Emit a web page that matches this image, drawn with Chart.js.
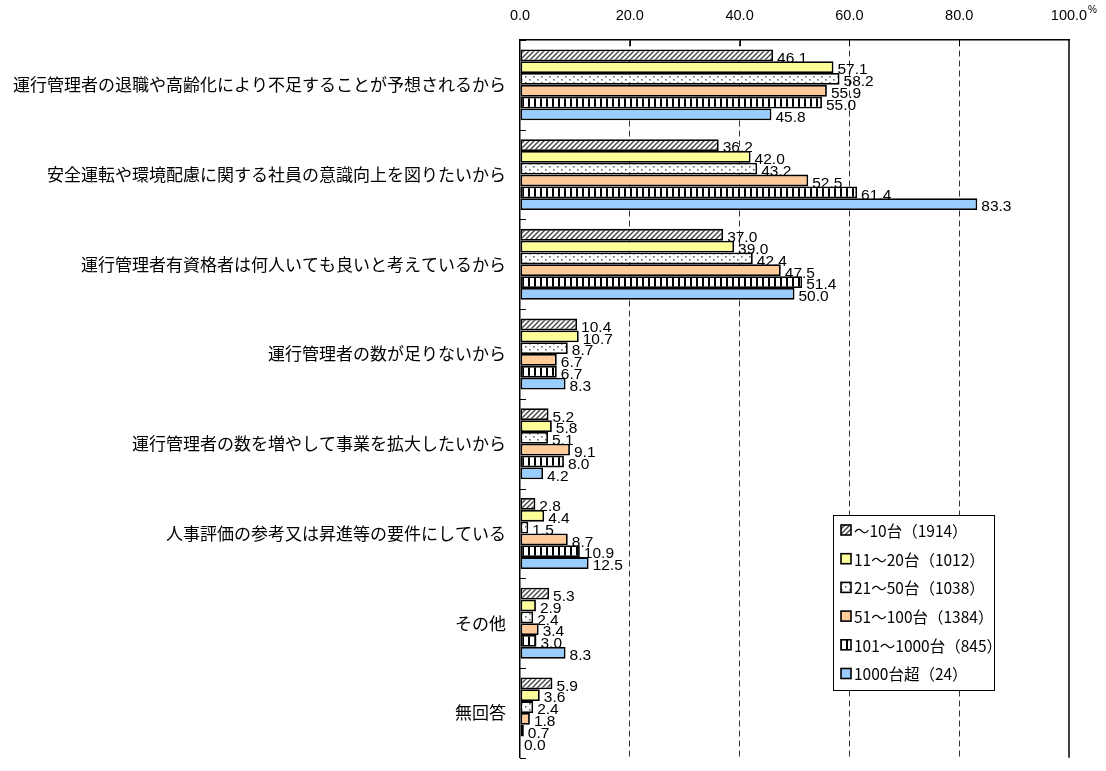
<!DOCTYPE html>
<html>
<head>
<meta charset="utf-8">
<script src="https://cdn.jsdelivr.net/npm/chart.js@4"></script>
<style>
  html, body { margin: 0; padding: 0; background: #fff; overflow: hidden; }
  #wrap { position: absolute; left: 0; top: 0; width: 1106px; height: 782px; }
</style>
</head>
<body>
<div id="wrap"><canvas id="chart" width="1106" height="782"></canvas></div>
<script>
// categories (top to bottom)
const categories = [
  "運行管理者の退職や高齢化により不足することが予想されるから",
  "安全運転や環境配慮に関する社員の意識向上を図りたいから",
  "運行管理者有資格者は何人いても良いと考えているから",
  "運行管理者の数が足りないから",
  "運行管理者の数を増やして事業を拡大したいから",
  "人事評価の参考又は昇進等の要件にしている",
  "その他",
  "無回答"
];

const seriesNames = ["～10台（1914）", "11～20台（1012）", "21～50台（1038）", "51～100台（1384）", "101～1000台（845）", "1000台超（24）"];

const s10 = [46.1, 36.2, 37.0, 10.4, 5.2, 2.8, 5.3, 5.9];
const s20 = [57.1, 42.0, 39.0, 10.7, 5.8, 4.4, 2.9, 3.6];
const s50 = [58.2, 43.2, 42.4, 8.7, 5.1, 1.5, 2.4, 2.4];
const s100 = [55.9, 52.5, 47.5, 6.7, 9.1, 8.7, 3.4, 1.8];
const s1000 = [55.0, 61.4, 51.4, 6.7, 8.0, 10.9, 3.0, 0.7];
const sOver = [45.8, 83.3, 50.0, 8.3, 4.2, 12.5, 8.3, 0.0];

const xTicks = [0, 20, 40, 60, 80, 100];

// fill patterns
function makeTile(w, h, draw) {
  const c = document.createElement("canvas");
  c.width = w; c.height = h;
  const g = c.getContext("2d");
  g.fillStyle = "#fff";
  g.fillRect(0, 0, w, h);
  draw(g);
  return document.createElement("canvas").getContext("2d").createPattern(c, "repeat");
}

const hatch = makeTile(5, 5, g => {
  g.strokeStyle = "#444";
  g.lineWidth = 1.4;
  g.beginPath();
  g.moveTo(-1, 6); g.lineTo(6, -1);
  g.moveTo(-1, 1); g.lineTo(1, -1);
  g.moveTo(4, 6); g.lineTo(6, 4);
  g.stroke();
});
const dots = makeTile(8, 6, g => {
  g.fillStyle = "#666";
  g.fillRect(1, 1, 1.6, 1.6);
  g.fillRect(5, 4, 1.6, 1.6);
});
const stripes = makeTile(6, 6, g => {
  g.fillStyle = "#000";
  g.fillRect(0, 0, 2, 6);
});

const fills = [hatch, "#ffff99", dots, "#ffcc99", stripes, "#99ccff"];
const values = [s10, s20, s50, s100, s1000, sOver];

const jpFont = "'Noto Sans CJK JP', sans-serif";
const numFont = "'Liberation Sans', Arial, sans-serif";

// value labels, inner ticks, frame, legend
const extras = {
  id: "extras",
  afterDatasetsDraw(chart) {
    const ctx = chart.ctx;
    const area = chart.chartArea;
    const x = chart.scales.x;
    const y = chart.scales.y;
    ctx.save();

    // labels next to bars
    ctx.fillStyle = "#000";
    ctx.font = "15.5px " + numFont;
    ctx.textAlign = "left";
    ctx.textBaseline = "middle";
    chart.data.datasets.forEach((ds, i) => {
      chart.getDatasetMeta(i).data.forEach((bar, j) => {
        ctx.fillText(ds.data[j].toFixed(1), bar.x + 4, bar.y + 3);
      });
    });

    // right frame line
    ctx.strokeStyle = "#000";
    ctx.lineWidth = 1.5;
    ctx.beginPath();
    ctx.moveTo(x.getPixelForValue(100), area.top);
    ctx.lineTo(x.getPixelForValue(100), area.bottom);
    ctx.stroke();

    // inner tick marks
    ctx.lineWidth = 1;
    ctx.beginPath();
    const step = y.getPixelForValue(1) - y.getPixelForValue(0);
    for (let i = 0; i <= categories.length; i++) {
      const py = Math.round(y.getPixelForValue(i) - step / 2) + 0.5;
      ctx.moveTo(area.left, py);
      ctx.lineTo(area.left + 6, py);
    }
    xTicks.slice(1, -1).forEach(v => {
      const px = Math.round(x.getPixelForValue(v)) + 0.5;
      ctx.moveTo(px, area.top);
      ctx.lineTo(px, area.top + 6);
    });
    ctx.stroke();

    // percent sign
    ctx.font = "10px " + numFont;
    ctx.textBaseline = "middle";
    ctx.fillText("%", 1088, 10);

    // legend box
    const lx = 833, ly = 515, lw = 161, lh = 175;
    ctx.fillStyle = "#fff";
    ctx.fillRect(lx, ly, lw, lh);
    ctx.strokeStyle = "#000";
    ctx.lineWidth = 1;
    ctx.strokeRect(lx + 0.5, ly + 0.5, lw, lh);
    ctx.save();
    ctx.beginPath();
    ctx.rect(lx, ly, lw, lh);
    ctx.clip();
    ctx.font = "15.5px " + jpFont;
    chart.data.datasets.forEach((ds, i) => {
      const cy = ly + 15 + i * 28.7;
      ctx.fillStyle = ds.backgroundColor;
      ctx.fillRect(841, cy - 5, 10, 10);
      ctx.lineWidth = 1.6;
      ctx.strokeRect(841, cy - 5, 10, 10);
      ctx.fillStyle = "#000";
      ctx.fillText(ds.label, 854, cy + 1);
    });
    ctx.restore();

    ctx.restore();
  }
};

new Chart(document.getElementById("chart"), {
  type: "bar",
  data: {
    labels: categories,
    datasets: seriesNames.map((name, i) => ({
      label: name,
      data: values[i],
      backgroundColor: fills[i],
      borderColor: "#000",
      borderWidth: 1.8,
      borderSkipped: false,
      barPercentage: 1.0,
      categoryPercentage: 0.79
    }))
  },
  options: {
    indexAxis: "y",
    responsive: false,
    animation: false,
    devicePixelRatio: 1,
    layout: { padding: { left: 0, right: 37, top: 0, bottom: 2 } },
    plugins: {
      legend: { display: false },
      tooltip: { enabled: false }
    },
    scales: {
      x: {
        position: "top",
        min: 0,
        max: 100,
        afterFit: s => { s.height = 40; },
        afterBuildTicks: s => { s.ticks = xTicks.map(v => ({ value: v })); },
        ticks: {
          color: "#000",
          font: { family: numFont, size: 14.5 },
          padding: 15,
          maxRotation: 0,
          callback: v => Number(v).toFixed(1)
        },
        grid: {
          drawTicks: false,
          color: c => (c.tick && (c.tick.value === 0 || c.tick.value === 100)) ? "rgba(0,0,0,0)" : "#333",
          lineWidth: 1
        },
        border: { display: true, color: "#000", width: 1.5, dash: [6, 4] }
      },
      y: {
        position: "left",
        afterFit: s => { s.width = 520; },
        ticks: {
          color: "#000",
          font: { family: jpFont, size: 17 },
          padding: 14,
          autoSkip: false
        },
        grid: { display: false, drawTicks: false },
        border: { display: true, color: "#000", width: 1.5 }
      }
    }
  },
  plugins: [extras]
});
</script>
</body>
</html>
